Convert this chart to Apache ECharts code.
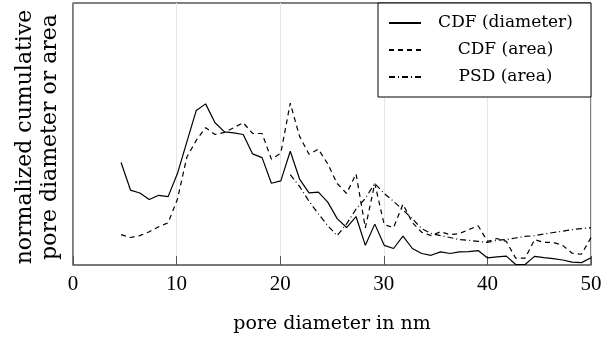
<!DOCTYPE html>
<html><head><meta charset="utf-8">
<script src="https://cdn.jsdelivr.net/npm/echarts@6/dist/echarts.min.js"></script>
<style>html,body{margin:0;padding:0;background:#fff;}#c{width:613px;height:339px;}</style>
</head><body><div id="c"></div>
<script>
const poreDiameter = [4.64,5.55,6.45,7.36,8.27,9.18,10.08,10.99,11.90,12.80,13.71,14.62,15.52,16.43,17.34,18.25,19.15,20.06,20.97,21.87,22.78,23.69,24.59,25.50,26.41,27.32,28.22,29.13,30.04,30.94,31.85,32.76,33.66,34.57,35.48,36.39,37.29,38.20,39.11,40.01,40.92,41.83,42.73,43.64,44.55,45.46,46.36,47.27,48.18,49.08,50.00];
const cdfDiameter = [39.1,28.6,27.5,25.0,26.6,26.1,34.9,47.0,59.0,61.5,54.3,50.8,50.4,49.8,42.4,41.0,31.2,32.1,43.4,32.8,27.5,27.8,24.0,17.7,14.3,18.5,7.5,15.6,7.5,6.3,11.0,6.3,4.4,3.7,5.0,4.4,5.0,5.1,5.5,2.7,3.1,3.4,0.2,0.2,3.3,2.8,2.4,1.9,1.1,0.9,2.8];
const cdfArea = [11.6,10.5,11.2,12.7,14.6,16.1,25.1,41.2,47.6,52.4,49.8,50.6,52.4,54.3,50.2,50.2,40.4,42.7,61.8,49.1,42.3,44.2,38.6,31.1,27.3,34.8,14.2,31.1,15.4,14.3,23.2,16.2,12.5,11.2,12.7,11.6,12.0,13.5,15.0,9.0,10.1,9.0,2.6,2.6,9.7,8.6,8.6,7.5,4.5,4.1,10.5];
const psdArea = [null,null,null,null,null,null,null,null,null,null,null,null,null,null,null,null,null,null,34.5,30.0,24.3,19.5,15.0,11.2,15.7,21.3,25.5,31.1,27.3,24.3,21.0,17.6,13.9,12.0,11.2,10.5,9.7,9.4,9.0,8.6,9.4,9.7,10.3,10.9,11.2,11.8,12.4,12.9,13.5,13.9,14.2];
const xTicks = [0,10,20,30,40,50];
const seriesNames = ['CDF (diameter)','CDF (area)','PSD (area)'];

const pair = (ys) => poreDiameter.map((x,i)=>[x, ys[i]]);
const tickFont = 'Liberation Serif';
const font = 'DejaVu Serif';
const chart = echarts.init(document.getElementById('c'));
chart.setOption({
  animation: false,
  grid: {left: 73, right: 22, top: 3, bottom: 69, show: true, borderColor: '#000', borderWidth: 1},
  xAxis: {
    type: 'value', min: xTicks[0], max: xTicks[xTicks.length-1], interval: 10,
    name: 'pore diameter in nm', nameLocation: 'middle', nameGap: 50,
    nameTextStyle: {fontFamily: font, fontSize: 19, color: '#000'},
    axisLine: {lineStyle: {color: '#777', width: 1.5}},
    axisTick: {inside: true, length: 9, lineStyle: {color: '#555'}},
    axisLabel: {fontFamily: tickFont, fontSize: 21, color: '#000', margin: 9},
    splitLine: {show: true, lineStyle: {color: '#e6e6e6', width: 1}}
  },
  yAxis: {
    type: 'value', min: 0, max: 100,
    axisLine: {show: true, lineStyle: {color: '#777', width: 1.5}},
    axisTick: {show: false}, axisLabel: {show: false}, splitLine: {show: false}
  },
  graphic: [{
    type: 'text', x: 38, y: 137, rotation: Math.PI/2,
    style: {text: 'normalized cumulative\npore diameter or area', fontFamily: font, fontSize: 22,
      lineHeight: 25, fill: '#000', align: 'center', verticalAlign: 'middle'}
  }],
  legend: {
    orient: 'vertical', left: 378, top: 3,
    padding: [10, 6, 10, 10], itemGap: 7, itemWidth: 32, itemHeight: 14,
    borderColor: '#000', borderWidth: 1, backgroundColor: '#fff',
    itemStyle: {opacity: 0},
    data: seriesNames,
    formatter: (n) => '{c|' + n + '}',
    textStyle: {fontFamily: font, fontSize: 17, color: '#000',
      rich: {c: {width: 159, height: 20, lineHeight: 20, align: 'center', fontFamily: font, fontSize: 17}}}
  },
  series: [
    {name: seriesNames[0], type: 'line', data: pair(cdfDiameter), symbol: 'none',
      lineStyle: {color: '#000', width: 1.2, type: 'solid'}, itemStyle: {color: '#000'}},
    {name: seriesNames[1], type: 'line', data: pair(cdfArea), symbol: 'none',
      lineStyle: {color: '#000', width: 1.2, type: [5, 4]}, itemStyle: {color: '#000'}},
    {name: seriesNames[2], type: 'line', data: pair(psdArea), symbol: 'none', connectNulls: false,
      lineStyle: {color: '#000', width: 1.2, type: [6, 3, 1, 3]}, itemStyle: {color: '#000'}}
  ]
});
</script></body></html>
